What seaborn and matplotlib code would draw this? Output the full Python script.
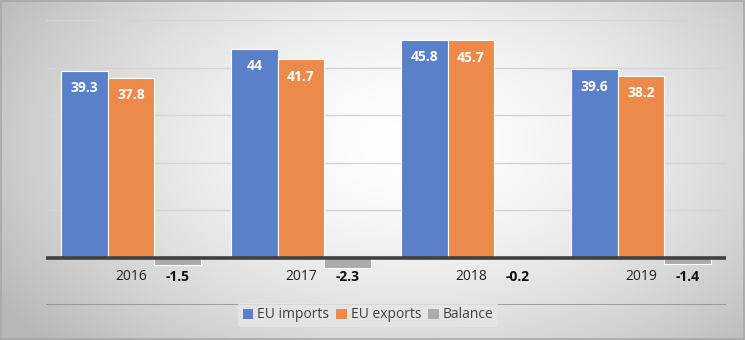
import numpy as np
import pandas as pd
import matplotlib
matplotlib.use("Agg")
import matplotlib.pyplot as plt
import seaborn as sns
from matplotlib.patches import Patch

years = ["2016", "2017", "2018", "2019"]
eu_imports = [39.3, 44.0, 45.8, 39.6]
eu_exports = [37.8, 41.7, 45.7, 38.2]
balance = [-1.5, -2.3, -0.2, -1.4]
series_names = ["EU imports", "EU exports", "Balance"]
colors = ["#5A80C9", "#EC8A4C", "#ABABAB"]

df = pd.DataFrame({
    "year": years * 3,
    "series": [series_names[0]] * 4 + [series_names[1]] * 4 + [series_names[2]] * 4,
    "value": eu_imports + eu_exports + balance,
})

sns.set_theme(style="white")
plt.rcParams["font.family"] = ["Open Sans", "DejaVu Sans"]

W, H = 745, 340
fig = plt.figure(figsize=(W / 100, H / 100), dpi=100)

# gradient background
bg = fig.add_axes([0, 0, 1, 1], zorder=-10)
yy, xx = np.mgrid[0:H, 0:W]
cx, cy = W * 0.55, H * 0.42
r = np.sqrt(((xx - cx) / (W * 0.62)) ** 2 + ((yy - cy) / (H * 0.85)) ** 2)
val = np.clip(1.0 - 0.26 * r ** 1.6, 0.72, 1.0)
img = np.dstack([val, val, val])
bg.imshow(img, aspect="auto", extent=[0, 1, 0, 1], origin="upper")
bg.set_axis_off()
bg.add_patch(plt.Rectangle((0.001, 0.003), 0.997, 0.994, transform=bg.transAxes,
                           fill=False, edgecolor="#A8A8A8", lw=1.2))

ax = fig.add_axes([46 / W, 1 - 305 / H, (726 - 46) / W, (305 - 20) / H])
ax.patch.set_alpha(0)

sns.barplot(data=df, x="year", y="value", hue="series", palette=colors,
            saturation=1, width=0.82, gap=0, ax=ax, legend=False, edgecolor="white",
            linewidth=0.8, zorder=3)

ax.set_ylim(-10, 50)
ax.set_xlim(-0.5, 3.5)
for yv in [10, 20, 30, 40, 50]:
    ax.axhline(yv, color="#D4D4D4", lw=1, zorder=1)
ax.axhline(-10, color="#8C8C8C", lw=1.1, zorder=1)
ax.axhline(0, color="#404040", lw=2.6, zorder=4)
ax.set_xticks([])
ax.set_yticks([])
ax.set_xlabel("")
ax.set_ylabel("")
for s in ax.spines.values():
    s.set_visible(False)

conts = ax.containers
for c, vals in zip(conts[:2], [eu_imports, eu_exports]):
    for bar, v in zip(c, vals):
        lbl = f"{v:g}"
        ax.annotate(lbl, (bar.get_x() + bar.get_width() / 2, bar.get_height()),
                    xytext=(0, -7.5), textcoords="offset points", ha="center", va="top",
                    color="white", fontsize=10, fontweight="bold", zorder=5)
for bar, v in zip(conts[2], balance):
    ax.annotate(f"{v:g}", (bar.get_x() + bar.get_width() / 2, 0),
                xytext=(0, -14), textcoords="offset points", ha="center", va="center",
                color="#111111", fontsize=10, fontweight="bold", zorder=5)
for i, yr in enumerate(years):
    ax.annotate(yr, (i, 0), xytext=(0, -14), textcoords="offset points",
                ha="center", va="center", color="#222222", fontsize=10, zorder=5)

handles = [Patch(facecolor=c, edgecolor="none") for c in colors]
leg = fig.legend(handles, series_names, loc="center", bbox_to_anchor=(368 / W, 1 - 315 / H),
                 ncol=3, frameon=True, fontsize=10, handlelength=0.75, handleheight=0.75,
                 handletextpad=0.3, columnspacing=0.5, borderpad=0.35)
leg.get_frame().set_facecolor("#E6E6E6")
leg.get_frame().set_edgecolor("none")
leg.get_frame().set_alpha(0.8)
for t in leg.get_texts():
    t.set_color("#404040")

fig.savefig("out.png", dpi=100)
